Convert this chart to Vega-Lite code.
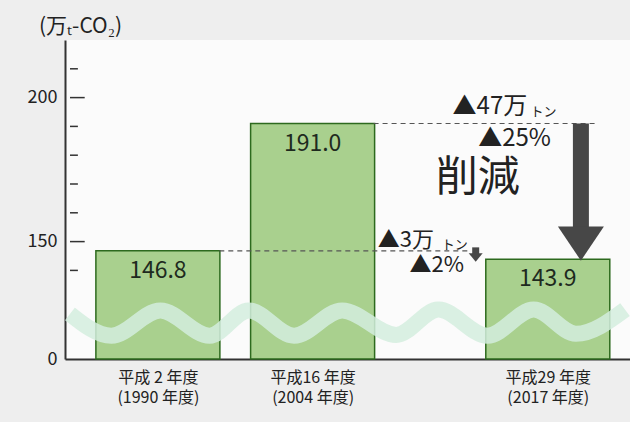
{
  "$schema": "https://vega.github.io/schema/vega-lite/v6.json",
  "width": 565,
  "height": 319,
  "autosize": {"type": "none"},
  "padding": {"left": 65, "top": 40, "right": 0, "bottom": 63},
  "background": "#eeeeee",
  "config": {
    "view": {"fill": "#fbfbfb", "stroke": null},
    "font": "Noto Sans CJK JP",
    "text": {"font": "Noto Sans CJK JP", "color": "#222222"}
  },
  "title": {
    "text": "(万ₜ-CO₂)",
    "anchor": "start",
    "frame": "group",
    "dx": -26,
    "offset": 3,
    "fontSize": 21,
    "fontWeight": "normal",
    "color": "#222222",
    "font": "Noto Sans CJK JP"
  },
  "datasets": {
    "bars": [
      {"year": "平成2年度", "pos": 1, "value": 146.8},
      {"year": "平成16年度", "pos": 2, "value": 191.0},
      {"year": "平成29年度", "pos": 3.52, "value": 143.9}
    ],
    "wave": [
      {"x": 0.432, "y": 124.9},
      {"x": 0.699, "y": 117.3},
      {"x": 1.016, "y": 126.1},
      {"x": 1.334, "y": 117.3},
      {"x": 1.588, "y": 126.1},
      {"x": 1.880, "y": 117.3},
      {"x": 2.191, "y": 126.1},
      {"x": 2.540, "y": 117.6},
      {"x": 2.813, "y": 126.4},
      {"x": 3.130, "y": 117.3},
      {"x": 3.429, "y": 126.4},
      {"x": 3.702, "y": 118.0},
      {"x": 4.019, "y": 126.4}
    ],
    "dashes": [
      {"y": 146.8, "x1": 1.397, "x2": 3.016},
      {"y": 191.0, "x1": 2.394, "x2": 3.848}
    ]
  },
  "layer": [
    {
      "data": {"name": "bars"},
      "mark": {"type": "bar", "width": 124, "fill": "#a9d08e", "stroke": "#2d6a1e", "strokeWidth": 1.5},
      "encoding": {
        "x": {
          "field": "pos", "type": "quantitative", "title": null,
          "scale": {"domain": [0.432, 4.019], "nice": false, "zero": false},
          "axis": {
            "values": [1, 2, 3.52],
            "ticks": false, "grid": false,
            "domainColor": "#333333", "domainWidth": 2,
            "labelExpr": "datum.value == 1 ? ['平成 2 年度', '(1990 年度)'] : datum.value == 2 ? ['平成16 年度', '(2004 年度)'] : ['平成29 年度', '(2017 年度)']",
            "labelFontSize": 16, "labelLineHeight": 20, "labelPadding": 10,
            "labelColor": "#222222", "labelFlush": false, "labelOverlap": false,
            "labelFont": "Noto Sans CJK JP"
          }
        },
        "y": {
          "field": "value", "type": "quantitative", "title": null,
          "scale": {"domain": [0, 110, 220], "range": [319, 316.8, 0], "nice": false, "zero": false},
          "axis": {
            "values": [0, 150, 200],
            "ticks": false, "grid": false,
            "domainColor": "#333333", "domainWidth": 2,
            "labelFontSize": 18, "labelColor": "#222222", "labelPadding": 8,
            "labelFont": "Noto Sans CJK JP"
          }
        }
      }
    },
    {
      "data": {"values": [{"t": 150}, {"t": 200}]},
      "mark": {"type": "rule", "color": "#333333", "strokeWidth": 1.5},
      "encoding": {
        "x": {"datum": 0.432, "type": "quantitative"},
        "x2": {"datum": 0.527},
        "y": {"field": "t", "type": "quantitative", "title": null}
      }
    },
    {
      "data": {"values": [{"t": 140}, {"t": 160}, {"t": 170}, {"t": 180}, {"t": 190}, {"t": 210}]},
      "mark": {"type": "rule", "color": "#333333", "strokeWidth": 1.5},
      "encoding": {
        "x": {"datum": 0.432, "type": "quantitative"},
        "x2": {"datum": 0.483},
        "y": {"field": "t", "type": "quantitative", "title": null}
      }
    },
    {
      "data": {"name": "wave"},
      "mark": {"type": "line", "interpolate": "monotone", "strokeWidth": 16, "color": "#d3edde", "opacity": 0.85, "strokeCap": "butt"},
      "encoding": {
        "x": {"field": "x", "type": "quantitative", "title": null},
        "y": {"field": "y", "type": "quantitative", "title": null}
      }
    },
    {
      "data": {"name": "dashes"},
      "mark": {"type": "rule", "strokeDash": [5, 4], "color": "#555555", "strokeWidth": 1.2},
      "encoding": {
        "x": {"field": "x1", "type": "quantitative", "title": null},
        "x2": {"field": "x2"},
        "y": {"field": "y", "type": "quantitative", "title": null}
      }
    },
    {
      "data": {"values": [{"x": 3.734, "from": 191.0, "to": 154.6}]},
      "mark": {"type": "rule", "color": "#474747", "strokeWidth": 16, "strokeCap": "butt"},
      "encoding": {
        "x": {"field": "x", "type": "quantitative", "title": null},
        "y": {"field": "from", "type": "quantitative", "title": null},
        "y2": {"field": "to"}
      }
    },
    {
      "data": {"values": [{"x": 3.734, "y": 149.3}]},
      "mark": {"type": "point", "shape": "M-1,-0.74L1,-0.74L0,0.74Z", "filled": true, "size": 2116, "color": "#474747", "opacity": 1},
      "encoding": {
        "x": {"field": "x", "type": "quantitative", "title": null},
        "y": {"field": "y", "type": "quantitative", "title": null}
      }
    },
    {
      "data": {"values": [{"x": 3.054, "from": 148.0, "to": 145.6}]},
      "mark": {"type": "rule", "color": "#474747", "strokeWidth": 7, "strokeCap": "butt"},
      "encoding": {
        "x": {"field": "x", "type": "quantitative", "title": null},
        "y": {"field": "from", "type": "quantitative", "title": null},
        "y2": {"field": "to"}
      }
    },
    {
      "data": {"values": [{"x": 3.054, "y": 144.5}]},
      "mark": {"type": "point", "shape": "M-1,-0.6L1,-0.6L0,0.6Z", "filled": true, "size": 196, "color": "#474747", "opacity": 1},
      "encoding": {
        "x": {"field": "x", "type": "quantitative", "title": null},
        "y": {"field": "y", "type": "quantitative", "title": null}
      }
    },
    {
      "data": {"name": "bars"},
      "mark": {"type": "text", "fontSize": 23, "dy": 20, "color": "#1e2a1e"},
      "encoding": {
        "x": {"field": "pos", "type": "quantitative", "title": null},
        "y": {"field": "value", "type": "quantitative", "title": null},
        "text": {"field": "value", "type": "quantitative", "format": ".1f"}
      }
    },
    {
      "data": {"values": [{"t": "▲47万", "x": 3.146, "y": 196.7}, {"t": "▲25%", "x": 3.305, "y": 185.6}]},
      "mark": {"type": "text", "fontSize": 24, "color": "#222222"},
      "encoding": {
        "x": {"field": "x", "type": "quantitative", "title": null},
        "y": {"field": "y", "type": "quantitative", "title": null},
        "text": {"field": "t"}
      }
    },
    {
      "data": {"values": [{"t": "▲3万", "x": 2.603, "y": 150.6}, {"t": "▲2%", "x": 2.803, "y": 141.9}]},
      "mark": {"type": "text", "fontSize": 22, "color": "#222222"},
      "encoding": {
        "x": {"field": "x", "type": "quantitative", "title": null},
        "y": {"field": "y", "type": "quantitative", "title": null},
        "text": {"field": "t"}
      }
    },
    {
      "data": {"values": [{"t": "トン", "x": 3.492, "y": 195.0}, {"t": "トン", "x": 2.918, "y": 148.8}]},
      "mark": {"type": "text", "fontSize": 13, "color": "#222222"},
      "encoding": {
        "x": {"field": "x", "type": "quantitative", "title": null},
        "y": {"field": "y", "type": "quantitative", "title": null},
        "text": {"field": "t"}
      }
    },
    {
      "data": {"values": [{"t": "削減", "x": 3.067, "y": 172.1}]},
      "mark": {"type": "text", "fontSize": 42, "color": "#222222"},
      "encoding": {
        "x": {"field": "x", "type": "quantitative", "title": null},
        "y": {"field": "y", "type": "quantitative", "title": null},
        "text": {"field": "t"}
      }
    }
  ]
}
